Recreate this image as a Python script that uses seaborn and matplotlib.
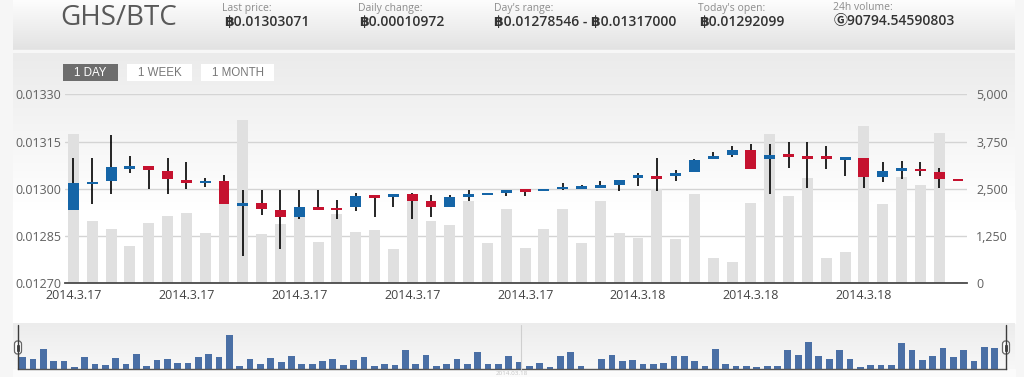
import numpy as np
import pandas as pd
import matplotlib
matplotlib.use("Agg")
import matplotlib.pyplot as plt
import matplotlib.colors as mcolors
from matplotlib.patches import Rectangle, FancyBboxPatch
import seaborn as sns

# ---------------- data ----------------
opens = [0.0129317, 0.0130152, 0.0130257, 0.0130638, 0.0130724, 0.0130575, 0.0130279, 0.0130175,
         0.0130248, 0.0129463, 0.0129540, 0.0129317, 0.0129114, 0.0129422, 0.0129400, 0.0129413,
         0.0129794, 0.0129749, 0.0129835, 0.0129603, 0.0129432, 0.0129749, 0.0129794, 0.0129876,
         0.0129984, 0.0129921, 0.0129984, 0.0130003, 0.0130025, 0.0130121, 0.0130333, 0.0130416,
         0.0130406, 0.0130524, 0.0130946, 0.0131073, 0.0131232, 0.0130956, 0.0131105, 0.0131051,
         0.0131041, 0.0130905, 0.0130968, 0.0130384, 0.0130556, 0.0130638, 0.0130543, 0.0130311]
highs = [0.0130968, 0.0130968, 0.0131708, 0.0131041, 0.0130724, 0.0130968, 0.0130860, 0.0130352,
         0.0130438, 0.0129962, 0.0129962, 0.0129962, 0.0129962, 0.0129962, 0.0129644, 0.0129857,
         0.0129794, 0.0129835, 0.0129857, 0.0129794, 0.0129794, 0.0129962, 0.0129876, 0.0129962,
         0.0129984, 0.0129994, 0.0130175, 0.0130111, 0.0130257, 0.0130279, 0.0130492, 0.0130968,
         0.0130597, 0.0130946, 0.0131159, 0.0131368, 0.0131413, 0.0131413, 0.0131495, 0.0131495,
         0.0131368, 0.0131000, 0.0130968, 0.0130860, 0.0130883, 0.0130860, 0.0130660, 0.0130311]
lows = [0.0129317, 0.0129517, 0.0129835, 0.0130511, 0.0129994, 0.0129835, 0.0129994, 0.0130067,
        0.0129517, 0.0127867, 0.0129168, 0.0128079, 0.0129032, 0.0129327, 0.0129032, 0.0129305,
        0.0129095, 0.0129432, 0.0129032, 0.0129114, 0.0129413, 0.0129603, 0.0129794, 0.0129781,
        0.0129781, 0.0129921, 0.0129962, 0.0130003, 0.0130016, 0.0129940, 0.0130089, 0.0129930,
        0.0130248, 0.0130524, 0.0130946, 0.0131019, 0.0130619, 0.0129825, 0.0130670, 0.0130016,
        0.0130629, 0.0130406, 0.0130035, 0.0130206, 0.0130311, 0.0130406, 0.0130035, 0.0130238]
closes = [0.0130175, 0.0130225, 0.0130683, 0.0130724, 0.0130597, 0.0130321, 0.0130194, 0.0130257,
          0.0129517, 0.0129559, 0.0129349, 0.0129114, 0.0129422, 0.0129327, 0.0129317, 0.0129771,
          0.0129698, 0.0129835, 0.0129622, 0.0129432, 0.0129740, 0.0129835, 0.0129876, 0.0129962,
          0.0129898, 0.0129994, 0.0130057, 0.0130079, 0.0130121, 0.0130279, 0.0130429, 0.0130321,
          0.0130502, 0.0130914, 0.0131041, 0.0131232, 0.0130619, 0.0131073, 0.0131000, 0.0130956,
          0.0130946, 0.0131000, 0.0130384, 0.0130575, 0.0130651, 0.0130556, 0.0130321, 0.0130238]
volumes = [3950, 1650, 1430, 990, 1590, 1780, 1850, 1320, 2250, 4320,
           1300, 1570, 1800, 1090, 1830, 1360, 1410, 910, 2250, 1650,
           1540, 2190, 1070, 1970, 930, 1440, 1960, 1070, 2180, 1330,
           1190, 2500, 1160, 2350, 660, 560, 2120, 3960, 2310, 2790,
           660, 830, 4170, 2100, 2820, 2600, 3980, 40]
nav_volumes = [35, 30, 59, 25, 25, 5, 35, 16, 11, 32,
               16, 46, 8, 27, 30, 19, 19, 35, 46, 35,
               103, 8, 30, 14, 32, 22, 38, 16, 16, 25,
               30, 11, 27, 35, 8, 14, 11, 57, 16, 41,
               8, 14, 30, 16, 52, 14, 16, 38, 22, 8,
               19, 5, 38, 52, 8, 0, 30, 43, 25, 27,
               14, 14, 19, 38, 38, 25, 8, 59, 14, 8,
               8, 5, 8, 8, 57, 43, 82, 40, 30, 57,
               30, 5, 11, 11, 11, 79, 57, 27, 38, 62,
               35, 57, 25, 65, 62]
x_tick_labels = ["2014.3.17", "2014.3.17", "2014.3.17", "2014.3.17", "2014.3.17",
                 "2014.3.18", "2014.3.18", "2014.3.18"]
x_tick_step = 6
price_ticks = [0.01270, 0.01285, 0.01300, 0.01315, 0.01330]
volume_ticks = [0, 1250, 2500, 3750, 5000]
header_labels = ["Last price:", "Daily change:", "Day's range:", "Today's open:", "24h volume:"]
header_values = ["\u0E3F0.01303071", "\u0E3F0.00010972", "\u0E3F0.01278546 - \u0E3F0.01317000",
                 "\u0E3F0.01292099", "\u24BC90794.54590803"]
pair_name = "GHS/BTC"
range_buttons = ["1 DAY", "1 WEEK", "1 MONTH"]
navigator_date = "2014.03.18"

# ---------------- style ----------------
sns.set_theme(style="white")
FONT = ['Open Sans', 'DejaVu Sans', 'Noto Sans CJK JP']
plt.rcParams['font.family'] = FONT

BLUE = '#1565a7'
RED = '#c5122f'
VOLC = '#e0e0e0'
NAVC = '#4a6fa5'

W, H = 1024, 377
fig = plt.figure(figsize=(W / 100, H / 100), dpi=100)

# ---------------- background ----------------
bg = fig.add_axes([0, 0, 1, 1], zorder=0)
bg.axis('off')


def vgrad(ax, x0, x1, y0, y1, ctop, cbot):
    c0 = np.array(mcolors.to_rgb(ctop))
    c1 = np.array(mcolors.to_rgb(cbot))
    t = np.linspace(0, 1, 256)[:, None]
    arr = (c0 * (1 - t) + c1 * t)[:, None, :]
    ax.imshow(arr, extent=(x0, x1, y1, y0), origin='upper', aspect='auto',
              interpolation='bilinear', zorder=0)


bg.add_patch(Rectangle((0, 0), W, H, color='#f6f6f6', zorder=-1))
vgrad(bg, 13, 1015, 0, 50, '#fdfdfd', '#e2e2e2')
bg.add_patch(Rectangle((13, 50), 1002, 3, color='#f7f7f7', zorder=0))
vgrad(bg, 13, 1015, 53, 210, '#ebebeb', '#ffffff')
bg.add_patch(Rectangle((13, 210), 1002, 113, color='#ffffff', zorder=0))
vgrad(bg, 13, 1015, 323, 369, '#ececec', '#f8f8f8')
bg.add_patch(Rectangle((13, 369), 1002, 8, color='#fbfbfb', zorder=0))
bg.set_xlim(0, W)
bg.set_ylim(H, 0)

# ---------------- main chart ----------------
n = len(closes)
idx = list(range(n))
df = pd.DataFrame({"i": idx, "open": opens, "high": highs, "low": lows,
                   "close": closes, "volume": volumes})

ax_vol = fig.add_axes([65 / W, 1 - 283.3 / H, 902 / W, 189 / H], zorder=1)
ax_vol.patch.set_alpha(0)
sns.barplot(data=df, x="i", y="volume", ax=ax_vol, color=VOLC, width=0.58,
            saturation=1, linewidth=0, errorbar=None)
ax_vol.set_xlabel("")
ax_vol.set_ylabel("")

ax_p = ax_vol.twinx()

ax_vol.set_xlim(-0.45, n - 0.52)
ax_vol.set_ylim(0, 5000)
ax_vol.yaxis.tick_right()
ax_vol.set_yticks(volume_ticks)
ax_vol.set_yticklabels([f"{v:,}" for v in volume_ticks])
ax_vol.tick_params(axis='y', which='both', left=False, labelleft=False, right=False,
                   labelright=True, length=0, pad=6.5, labelsize=9, labelcolor='#606060')
tick_pos = list(range(0, n, x_tick_step))[:len(x_tick_labels)]
ax_vol.set_xticks(tick_pos)
ax_vol.set_xticklabels(x_tick_labels)
ax_vol.tick_params(axis='x', length=0, pad=4, labelsize=9, labelcolor='#444444')
ax_vol.grid(axis='y', color='#d4d4d4', lw=1)
ax_vol.set_axisbelow(True)
for s in ['top', 'left', 'right']:
    ax_vol.spines[s].set_visible(False)
ax_vol.spines['bottom'].set_color('#4a4a4a')
ax_vol.spines['bottom'].set_linewidth(1.3)

ax_p.set_ylim(price_ticks[0], price_ticks[-1])
ax_p.set_yticks(price_ticks)
ax_p.set_yticklabels([f"{t:.5f}" for t in price_ticks])
ax_p.tick_params(axis='y', which='both', left=False, labelleft=True, right=False,
                 labelright=False, length=0, pad=2.5, labelsize=9, labelcolor='#606060')
for s in ax_p.spines.values():
    s.set_visible(False)

up = df["close"] >= df["open"]
colors = [BLUE if u else RED for u in up]
ax_p.vlines(df["i"], df["low"], df["high"], color='black', lw=1.2, zorder=2)
body_bottom = np.minimum(df["open"], df["close"])
body_h = np.maximum(np.abs(df["close"] - df["open"]), 0.0000075)
ax_p.bar(df["i"], body_h, bottom=body_bottom, width=0.58, color=colors, zorder=3, lw=0)
ax_p.set_xlim(-0.45, n - 0.52)

# ---------------- navigator ----------------
m = len(nav_volumes)
nav_df = pd.DataFrame({"i": list(range(m)), "v": nav_volumes})
ax_nav = fig.add_axes([18 / W, 1 - 369 / H, 988 / W, 44 / H], zorder=1)
ax_nav.patch.set_alpha(0)
sns.barplot(data=nav_df, x="i", y="v", ax=ax_nav, color=NAVC, width=0.65,
            saturation=1, linewidth=0, errorbar=None)
ax_nav.set_xlim(-0.45, m + 0.1)
ax_nav.set_ylim(0, 132)
ax_nav.set_xticks([])
ax_nav.set_yticks([])
ax_nav.set_xlabel("")
ax_nav.set_ylabel("")
for s in ['top', 'left', 'right']:
    ax_nav.spines[s].set_visible(False)
ax_nav.spines['bottom'].set_color('#555555')
ax_nav.spines['bottom'].set_linewidth(1.0)

# ---------------- overlay: header, buttons, handles ----------------
ov = fig.add_axes([0, 0, 1, 1], zorder=5)
ov.patch.set_alpha(0)
ov.axis('off')
ov.set_xlim(0, W)
ov.set_ylim(H, 0)

ov.text(60, 18, pair_name, fontsize=20, color='#595959', va='center', ha='left', family=FONT)
label_x = [222, 358, 494, 698, 833]
value_x = [224, 359, 494, 699, 834]
for lx, vx, lab, val in zip(label_x, value_x, header_labels, header_values):
    ov.text(lx, 8, lab, fontsize=7.5, color='#8c8c8c', va='center', ha='left', family=FONT)
    ov.text(vx, 21.5, val, fontsize=10, color='#333333', va='center', ha='left',
            fontweight='semibold', family=FONT)

btn_x = [(63, 118), (127, 192), (201, 274)]
for k, ((x0, x1), lab) in enumerate(zip(btn_x, range_buttons)):
    active = k == 0
    ov.add_patch(Rectangle((x0, 63.5), x1 - x0, 17, facecolor='#6d6d6d' if active else '#ffffff',
                           edgecolor='none'))
    ov.text((x0 + x1) / 2, 72.5, lab, fontsize=8.3, color='#ffffff' if active else '#777777',
            va='center', ha='center', family=['Liberation Sans', 'DejaVu Sans'])

# navigator helpers
ov.plot([520.5, 520.5], [325, 369], color='#cfcfcf', lw=0.8)
for hx in (18, 1006):
    ov.plot([hx, hx], [325, 369], color='#3c3c3c', lw=1.0)
    ov.add_patch(FancyBboxPatch((hx - 3.5, 341), 7, 13,
                                boxstyle="round,pad=0,rounding_size=3",
                                facecolor='#ffffff', edgecolor='#666666', lw=0.9))
    ov.plot([hx - 1, hx - 1], [344.5, 350.5], color='#444444', lw=0.7)
    ov.plot([hx + 1, hx + 1], [344.5, 350.5], color='#444444', lw=0.7)
ov.text(512, 373.5, navigator_date, fontsize=4.5, color='#c4c4c4', va='center', ha='center',
        family=FONT)

fig.savefig("out.png", dpi=100)
